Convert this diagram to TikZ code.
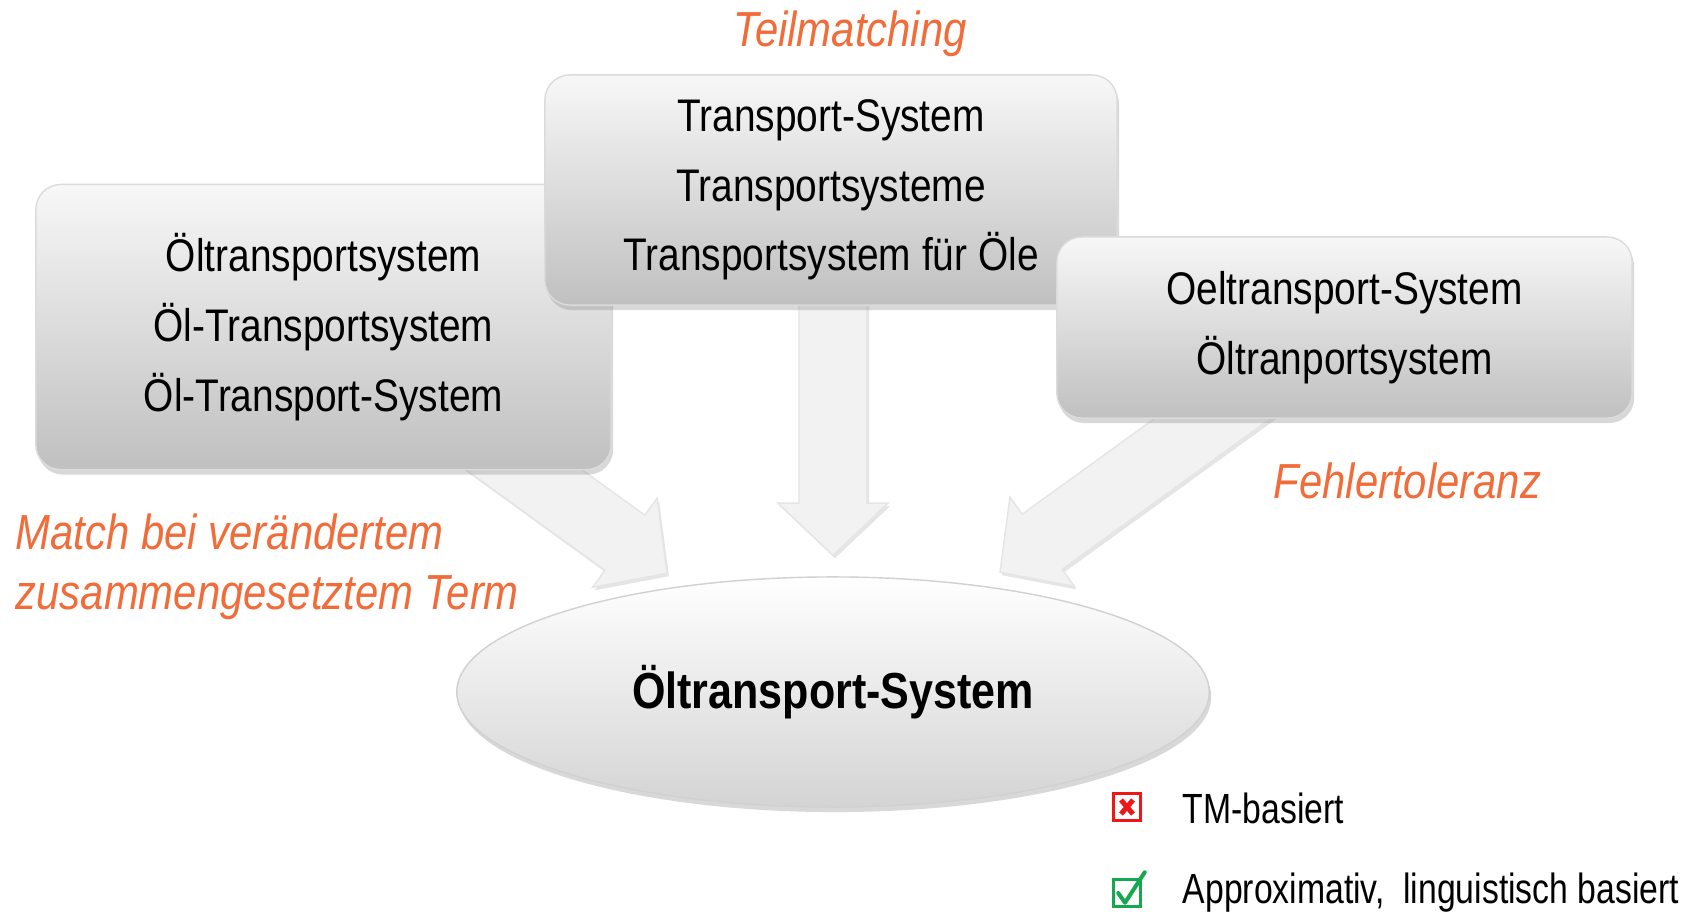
\documentclass[tikz,border=0pt]{standalone}
\usepackage{fontspec}
\setmainfont{Liberation Sans}
\newfontfamily\boxfont[FakeStretch=0.85]{Liberation Sans}
\newfontfamily\legendfont[FakeStretch=0.8]{Liberation Sans}
\usepackage{tikz}
\usetikzlibrary{positioning,shapes,calc,shadows}
\pgfdeclarelayer{bg}
\pgfsetlayers{bg,main}
\definecolor{noteorange}{RGB}{242,108,58}
\definecolor{boxgray}{RGB}{192,192,192}
\definecolor{okgreen}{RGB}{22,168,78}
\definecolor{badred}{RGB}{238,22,22}

\tikzset{
  termbox/.style={rectangle, rounded corners=0.25cm, draw=black!14, top color=white!97!black,
    bottom color=boxgray, drop shadow={shadow xshift=0.02cm, shadow yshift=-0.05cm, opacity=0.3},
    align=center, inner sep=0pt, font={\boxfont\fontsize{13}{19.8}\selectfont}},
  goalnode/.style={ellipse, draw=black!18, top color=white, bottom color=black!17,
    drop shadow={shadow xshift=0.02cm, shadow yshift=-0.05cm, opacity=0.3},
    inner sep=0pt, font={\boxfont\bfseries\fontsize{14.4}{17}\selectfont}},
  blockarrow/.style={fill=black!5, draw=black!10,
    drop shadow={shadow xshift=0.02cm, shadow yshift=-0.03cm, opacity=0.2}},
  note/.style={inner sep=0pt, text=noteorange, font={\boxfont\itshape\fontsize{14}{17}\selectfont}},
  legendtext/.style={inner sep=0pt, font={\legendfont\fontsize{12}{14}\selectfont}},
  iconbox/.style={rectangle, draw, line width=0.025cm, minimum size=0.27cm, inner sep=0pt}
}

% tail #1, tip #2
\newcommand{\bigarrow}[2]{%
  \path ($(#2)!0.52cm!(#1)$) coordinate (hb);
  \path[blockarrow] ($(#1)!0.34cm!90:(#2)$) -- ($(hb)!0.34cm!-90:(#1)$)
    -- ($(hb)!0.55cm!-90:(#1)$) -- (#2) -- ($(hb)!0.55cm!90:(#1)$)
    -- ($(hb)!0.34cm!90:(#1)$) -- ($(#1)!0.34cm!-90:(#2)$) -- cycle;}

\begin{document}
\begin{tikzpicture}[x=0.01cm, y=-0.01cm]
\useasboundingbox (0,0) rectangle (1705,912);

\node[termbox, minimum width=5.75cm, minimum height=2.85cm] (lbox) at (323.5,327)
  {Öltransportsystem\\Öl-Transportsystem\\Öl-Transport-System};
\node[termbox, minimum width=5.72cm, minimum height=2.30cm] (mbox) at (831,190)
  {Transport-System\\Transportsysteme\\Transportsystem für Öle};
\node[termbox, minimum width=5.75cm, minimum height=1.81cm] (rbox) at (1344.5,327.5)
  {Oeltransport-System\\Öltranportsystem};

\node[goalnode, minimum width=7.52cm, minimum height=2.30cm] (goal) at (833,692) {Öltransport-System};

\coordinate (ltail) at (389,372);
\coordinate (mtail) at (833,280);
\coordinate (rtail) at (1277,372);
\coordinate (ltip) at ($(goal.north)+(-166,-3)$);
\coordinate (mtip) at ($(goal.north)+(0,-21)$);
\coordinate (rtip) at ($(goal.north)+(167,-4)$);

\begin{pgfonlayer}{bg}
\fill[white] (0,0) rectangle (1705,912);
\bigarrow{ltail}{ltip}
\bigarrow{mtail}{mtip}
\bigarrow{rtail}{rtip}
\end{pgfonlayer}

\node[note, anchor=base] (partial) at (850,47) {Teilmatching};
\node[note, anchor=north west, align=left] (compound) at (15,513) {Match bei verändertem\\zusammengesetztem Term};
\node[note, anchor=base west] (fuzzy) at (1273,498) {Fehlertoleranz};

\node[iconbox, draw=badred] (xbox) at (1127,807) {};
\draw[badred, line width=0.05cm] ($(xbox.center)+(-6,-7)$) -- ($(xbox.center)+(6,7)$);
\draw[badred, line width=0.05cm] ($(xbox.center)+(6,-7)$) -- ($(xbox.center)+(-6,7)$);
\node[iconbox, draw=okgreen] (vbox) at (1127,893) {};
\draw[okgreen, line width=0.04cm, line cap=round, line join=round]
  ($(vbox.west)+(6,0)$) -- ($(vbox.south)+(-2,-5)$) -- ($(vbox.north east)+(3,-6)$);

\node[legendtext, anchor=base west] (tmtext) at (1182,823) {TM-basiert};
\node[legendtext, anchor=base west] (apptext) at (1182,903) {Approximativ,~ linguistisch basiert};
\end{tikzpicture}
\end{document}
